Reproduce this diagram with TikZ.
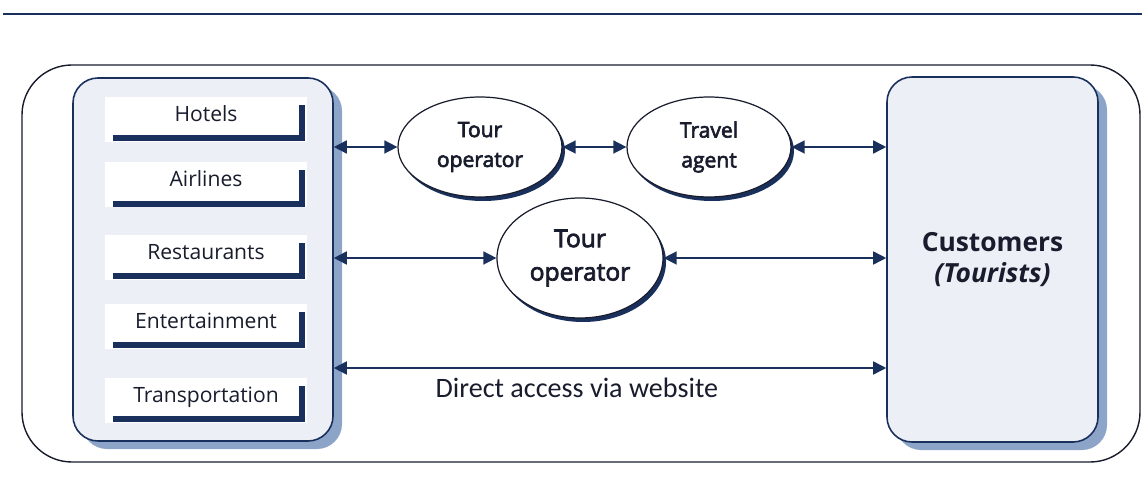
\documentclass[tikz,border=0pt]{standalone}
\usepackage{fontspec}
\setmainfont{Open Sans}
\newfontfamily\webfont{Carlito}
\newfontfamily\midfont[FakeBold=3]{Open Sans}
\usepackage{xcolor}
\usetikzlibrary{shapes.geometric, arrows.meta, positioning, shadows}
\definecolor{navy}{RGB}{26, 48, 92}
\definecolor{panelgray}{RGB}{236, 239, 245}
\definecolor{shadowblue}{RGB}{140, 164, 200}
\definecolor{ink}{RGB}{24, 28, 44}
\tikzstyle{frame} = [
    rectangle,
    rounded corners=10mm,
    minimum width=223.6mm,
    minimum height=79.4mm,
    draw=ink,
    line width=0.8pt
]
\tikzstyle{panel} = [
    rectangle,
    rounded corners=5mm,
    draw=navy,
    line width=0.9pt,
    fill=panelgray,
    inner sep=0pt,
    drop shadow={shadow xshift=1.8mm, shadow yshift=-1.6mm, fill=shadowblue, opacity=1}
]
\tikzstyle{item} = [
    rectangle,
    fill=white,
    minimum width=40.4mm,
    inner ysep=0pt,
    text height=4.9mm,
    text depth=4.1mm,
    text=ink,
    font=\fontsize{12}{14}\selectfont
]
\tikzstyle{itembar} = [
    navy,
    line width=1.2mm
]
\tikzstyle{actor} = [
    ellipse,
    draw=ink,
    line width=0.7pt,
    fill=white,
    inner sep=0pt,
    align=center,
    text=ink,
    drop shadow={shadow xshift=0.6mm, shadow yshift=-0.8mm, fill=navy, opacity=1}
]
\tikzstyle{arrow} = [
    navy,
    line width=0.9pt,
    {Triangle[length=2.6mm, width=2.6mm]}-{Triangle[length=2.6mm, width=2.6mm]}
]

\begin{document}
\begin{tikzpicture}[x=0.2mm, y=-0.2mm]
        \useasboundingbox (0,0) rectangle (1142,486);

        % Rule along the top
        \draw[navy, line width=1.3pt] (3,14) -- (1142,14);

        % Outer frame
        \node[frame] (frame) at (581,263.5) {};

        % Suppliers
        \node[panel, minimum width=52mm, minimum height=72.6mm] (suppliers) at (203,259.5) {};
        \node[item] (hotels) at (206,119.5) {Hotels};
        \node[item] (airlines) at (206,185) {Airlines};
        \node[item] (restaurants) at (206,257.5) {Restaurants};
        \node[item] (entertainment) at (206,326.5) {Entertainment};
        \node[item] (transport) at (206,400.5) {Transportation};
        \foreach \n in {hotels, airlines, restaurants, entertainment, transport}
            \draw[itembar] ([xshift=1.6mm, yshift=0.8mm]\n.south west) -- ([xshift=-1mm, yshift=0.8mm]\n.south east) -- ([xshift=-1mm, yshift=-1.6mm]\n.north east);

        % Customers
        \node[panel, minimum width=42.2mm, minimum height=73mm, align=center, text=ink,
              font=\fontsize{15}{18}\selectfont\bfseries] (customers) at (992.5,259.5) {Customers\\\textit{(Tourists)}};

        % Intermediaries
        \node[actor, minimum width=32.8mm, minimum height=20mm, font=\midfont\fontsize{12}{17}\selectfont] (tourA) at (480,147) {Tour\\operator};
        \node[actor, minimum width=32.8mm, minimum height=20mm, font=\midfont\fontsize{12}{17}\selectfont] (agent) at (709,147) {Travel\\agent};
        \node[actor, minimum width=33.2mm, minimum height=24mm, font=\midfont\fontsize{14}{19}\selectfont] (tourB) at (580,258) {Tour\\operator};

        % Arrows
        \draw[arrow] (suppliers.east |- tourA) -- (tourA);
        \draw[arrow] (tourA) -- (agent);
        \draw[arrow] (agent) -- (customers.west |- agent);
        \draw[arrow] (suppliers.east |- tourB) -- (tourB);
        \draw[arrow] (tourB) -- (customers.west |- tourB);
        \coordinate (web) at (600,368);
        \draw[arrow] (suppliers.east |- web) -- node[pos=0.44, below=0.6mm, text=ink, font=\webfont\fontsize{16}{19}\selectfont]{Direct access via website} (customers.west |- web);
    \end{tikzpicture}
\end{document}
